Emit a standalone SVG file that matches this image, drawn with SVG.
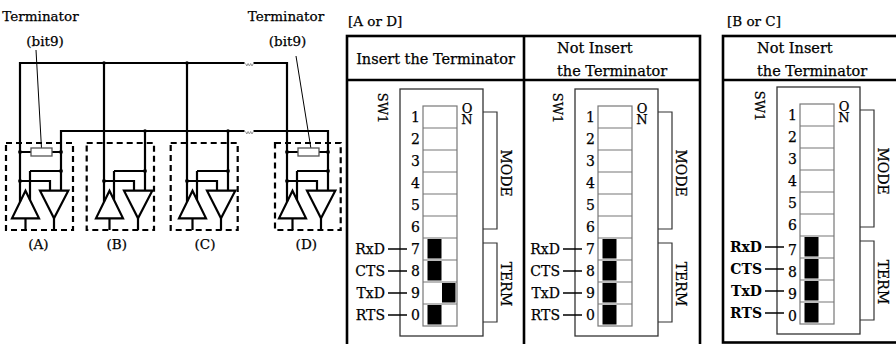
<svg xmlns="http://www.w3.org/2000/svg" width="896" height="344" viewBox="0 0 896 344">
<style>
text{font-family:"DejaVu Serif","Liberation Serif",serif;fill:#000;stroke:#000;stroke-width:0.25}
.f135{font-size:13.5px}
.mid{text-anchor:middle}
.end{text-anchor:end}
.hd{font-size:14.5px}
.lb{font-size:14px}
.num{font-size:14px;text-anchor:middle}
.sm{font-size:13px}
.bold{font-weight:bold;stroke-width:0}
.w{stroke:#000;stroke-width:2.2;fill:none}
.dash{stroke:#000;stroke-width:2.2;fill:none;stroke-dasharray:6 4}
.thin{stroke:#000;stroke-width:1;fill:none}
.sq{stroke:#888;stroke-width:0.9;fill:none}
.tbl{stroke:#000;stroke-width:2.6;fill:none}
.box{stroke:#333;stroke-width:1.3;fill:#fff}
.cell{stroke:#777;stroke-width:1.2;fill:none}
.brk{stroke:#333;stroke-width:1.2;fill:none}
.tick{stroke:#000;stroke-width:1.5;fill:none}
.res{stroke:#555;stroke-width:1.3;fill:#fff}
</style>
<defs>
<g id="xcvr">
<path class="w" d="M20,143V201.9M61,143V190.7M30,171H61M30,171V199.9M20,181H50V190.7M25.5,218.3V230M54,218.3V230"/>
<path class="w" d="M12,218.3H39L25.5,190.7Z"/>
<path class="w" d="M40,190.7H68.3L54,218.3Z"/>
<circle cx="61" cy="171" r="1.9"/><circle cx="20" cy="181" r="1.9"/>
</g>
<g id="term">
<path class="w" d="M20,152H61"/>
<rect class="res" x="31" y="148" width="21" height="8"/>
<circle cx="20" cy="152" r="1.9"/><circle cx="61" cy="152" r="1.9"/>
</g>
<g id="panel">
<rect class="box" x="400" y="89" width="83" height="247"/>
<rect class="cell" x="423" y="106" width="34" height="220"/>
<path class="cell" d="M423,128H457M423,150H457M423,172H457M423,194H457M423,216H457M423,238H457M423,260H457M423,282H457M423,304H457"/>
<text class="num" x="415.5" y="122">1</text>
<text class="num" x="415.5" y="144">2</text>
<text class="num" x="415.5" y="166">3</text>
<text class="num" x="415.5" y="188">4</text>
<text class="num" x="415.5" y="210">5</text>
<text class="num" x="415.5" y="232">6</text>
<text class="sm mid" x="467" y="112.5">O</text>
<text class="sm mid" x="467" y="123.5">N</text>
<path class="brk" d="M483,112H497V229H483M483,243H497V322H483"/>
<text class="sm mid" transform="translate(377.5,108) rotate(90)">SW1</text>
<text class="lb mid" transform="translate(501,173) rotate(90)">MODE</text>
<text class="lb mid" transform="translate(501,284) rotate(90)">TERM</text>
<path class="tick" d="M388,249H407M388,271H407M388,293H407M388,315H407"/>
</g>
<path id="sqg" class="sq" d="M0,0l1.3,2.5l1.3,-2.5l1.3,2.5l1.3,-2.5l1.3,2.5l1.3,-2.5"/>
</defs>

<!-- circuit labels -->
<g id="labels-circuit">
<text class="f135 mid" x="40.5" y="21">Terminator</text>
<text class="f135 mid" x="45" y="46">(bit9)</text>
<text class="f135 mid" x="286" y="21">Terminator</text>
<text class="f135 mid" x="287.5" y="46">(bit9)</text>
</g>

<!-- connectors -->
<g id="connectors">
<path class="w" d="M20,143V63H244.5M253.5,63H287V143M104,63V143M187,63V143"/>
<path class="w" d="M61,143V131H244.5M253.5,131H328V143M145,131V143M228,131V143"/>
<circle cx="104" cy="63" r="1.8"/><circle cx="187" cy="63" r="1.8"/>
<circle cx="145" cy="131" r="1.8"/><circle cx="228" cy="131" r="1.8"/>
<use href="#sqg" x="245.5" y="63.5"/>
<use href="#sqg" x="245.5" y="131.5"/>
<path class="thin" d="M36,50L41.5,148.5M296,56L311,149"/>
</g>

<g id="node-A">
<rect class="dash" x="6" y="143" width="67" height="87"/>
<use href="#xcvr"/>
<use href="#term"/>
<text class="f135 mid" x="38.5" y="249">(A)</text>
</g>
<g id="node-B">
<rect class="dash" x="86.7" y="143" width="67.3" height="87"/>
<use href="#xcvr" x="84"/>
<text class="f135 mid" x="116.7" y="249">(B)</text>
</g>
<g id="node-C">
<rect class="dash" x="170.7" y="143" width="67" height="87"/>
<use href="#xcvr" x="167"/>
<text class="f135 mid" x="205" y="249">(C)</text>
</g>
<g id="node-D">
<rect class="dash" x="275" y="143" width="65.7" height="87"/>
<use href="#xcvr" x="267"/>
<use href="#term" x="267"/>
<text class="f135 mid" x="306.3" y="249">(D)</text>
</g>

<!-- A or D table -->
<g id="table-AD">
<text class="f135" x="348" y="25.5">[A or D]</text>
<rect class="tbl" x="347" y="36" width="353" height="330"/>
<path class="tbl" d="M524,36V366M347,80H700"/>
<text class="hd mid" x="435.5" y="63.5">Insert the Terminator</text>
<text class="hd" x="557" y="53">Not Insert</text>
<text class="hd" x="557" y="76">the Terminator</text>
</g>

<g id="switch-AD-insert">
<use href="#panel"/>
<text class="lb end" x="385" y="254">RxD</text>
<text class="lb end" x="385" y="276">CTS</text>
<text class="lb end" x="385" y="298">TxD</text>
<text class="lb end" x="385" y="320">RTS</text>
<text class="num" x="415.5" y="254">7</text>
<text class="num" x="415.5" y="276">8</text>
<text class="num" x="415.5" y="298">9</text>
<text class="num" x="415.5" y="320">0</text>
<rect x="427.5" y="239" width="14" height="19.5"/>
<rect x="427.5" y="261" width="14" height="19.5"/>
<rect x="442" y="283" width="13.5" height="19.5"/>
<rect x="427.5" y="305" width="14" height="19.5"/>
</g>

<g id="switch-AD-not" transform="translate(175,0)">
<use href="#panel"/>
<text class="lb end" x="385" y="254">RxD</text>
<text class="lb end" x="385" y="276">CTS</text>
<text class="lb end" x="385" y="298">TxD</text>
<text class="lb end" x="385" y="320">RTS</text>
<text class="num" x="415.5" y="254">7</text>
<text class="num" x="415.5" y="276">8</text>
<text class="num" x="415.5" y="298">9</text>
<text class="num" x="415.5" y="320">0</text>
<rect x="427.5" y="239" width="14" height="19.5"/>
<rect x="427.5" y="261" width="14" height="19.5"/>
<rect x="427.5" y="283" width="14" height="19.5"/>
<rect x="427.5" y="305" width="14" height="19.5"/>
</g>

<!-- B or C table -->
<g id="table-BC">
<text class="f135" x="727" y="25.5">[B or C]</text>
<rect class="tbl" x="723" y="36" width="180" height="306.5"/>
<path class="tbl" d="M723,80H903"/>
<text class="hd" x="757" y="53">Not Insert</text>
<text class="hd" x="757" y="76">the Terminator</text>
</g>

<g id="switch-BC" transform="translate(377,-2)">
<use href="#panel"/>
<text class="lb end bold" x="385" y="254">RxD</text>
<text class="lb end bold" x="385" y="276">CTS</text>
<text class="lb end bold" x="385" y="298">TxD</text>
<text class="lb end bold" x="385" y="320">RTS</text>
<text class="num" x="415.5" y="257">7</text>
<text class="num" x="415.5" y="279">8</text>
<text class="num" x="415.5" y="301">9</text>
<text class="num" x="415.5" y="323">0</text>
<rect x="427.5" y="239" width="14" height="19.5"/>
<rect x="427.5" y="261" width="14" height="19.5"/>
<rect x="427.5" y="283" width="14" height="19.5"/>
<rect x="427.5" y="305" width="14" height="19.5"/>
</g>
</svg>
